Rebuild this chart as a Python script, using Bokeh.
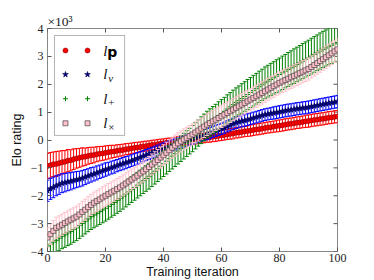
import math
from bokeh.plotting import figure
from bokeh.models import Range1d, FixedTicker, BoxAnnotation, Label, ColumnDataSource
from bokeh.embed import file_html
from bokeh.resources import INLINE

# ---------------- data (Elo rating, in units of 10^3) ----------------
iteration = list(range(0, 101))

l_p = [-0.93,-0.91,-0.87,-0.86,-0.83,-0.80,-0.78,-0.74,-0.73,-0.69,-0.66,
       -0.64,-0.61,-0.60,-0.57,-0.55,-0.54,-0.51,-0.49,-0.48,-0.46,
       -0.44,-0.42,-0.41,-0.39,-0.37,-0.36,-0.33,-0.32,-0.30,-0.28,
       -0.27,-0.25,-0.23,-0.22,-0.20,-0.18,-0.17,-0.15,-0.13,-0.12,
       -0.10,-0.09,-0.07,-0.06,-0.04,-0.03,-0.02,0.00,0.00,0.02,
       0.03,0.04,0.06,0.07,0.09,0.10,0.12,0.13,0.15,0.16,
       0.18,0.20,0.22,0.23,0.26,0.27,0.29,0.31,0.32,0.34,
       0.36,0.38,0.39,0.41,0.43,0.45,0.46,0.48,0.50,0.51,
       0.53,0.55,0.57,0.58,0.60,0.62,0.63,0.65,0.67,0.68,
       0.70,0.72,0.73,0.75,0.76,0.78,0.80,0.81,0.83,0.84]
l_p_err = [0.45,0.46,0.44,0.45,0.43,0.42,0.40,0.40,0.38,0.37,0.35,
           0.34,0.33,0.31,0.30,0.29,0.28,0.27,0.26,0.25,0.25,
           0.24,0.23,0.22,0.22,0.21,0.21,0.20,0.20,0.19,0.19,
           0.19,0.18,0.18,0.18,0.17,0.17,0.17,0.17,0.16,0.16,
           0.16,0.16,0.16,0.16,0.16,0.16,0.16,0.16,0.16,0.17,
           0.17,0.17,0.17,0.17,0.17,0.18,0.18,0.18,0.18,0.18,
           0.18,0.18,0.19,0.19,0.19,0.19,0.19,0.19,0.19,0.20,
           0.20,0.20,0.20,0.20,0.20,0.20,0.20,0.20,0.21,0.21,
           0.21,0.21,0.21,0.21,0.21,0.21,0.21,0.21,0.22,0.22,
           0.22,0.22,0.22,0.22,0.22,0.22,0.22,0.22,0.22,0.22]

l_v = [-1.82,-1.75,-1.70,-1.64,-1.60,-1.55,-1.53,-1.50,-1.48,-1.45,-1.42,
       -1.40,-1.37,-1.33,-1.29,-1.25,-1.22,-1.18,-1.14,-1.10,-1.06,
       -1.03,-0.99,-0.96,-0.92,-0.88,-0.85,-0.81,-0.78,-0.74,-0.70,
       -0.66,-0.62,-0.58,-0.54,-0.50,-0.46,-0.42,-0.38,-0.34,-0.30,
       -0.27,-0.23,-0.19,-0.16,-0.12,-0.09,-0.05,-0.02,0.02,0.05,
       0.08,0.12,0.15,0.18,0.21,0.25,0.29,0.33,0.36,0.40,
       0.44,0.49,0.53,0.58,0.62,0.65,0.68,0.70,0.73,0.76,
       0.79,0.82,0.85,0.88,0.91,0.93,0.95,0.97,0.99,1.01,
       1.03,1.05,1.07,1.08,1.10,1.12,1.13,1.15,1.16,1.18,
       1.20,1.22,1.24,1.26,1.28,1.30,1.32,1.34,1.36,1.38]
l_v_err = [0.38,0.38,0.37,0.36,0.35,0.34,0.33,0.32,0.31,0.30,0.29,
           0.28,0.28,0.27,0.26,0.26,0.25,0.25,0.24,0.24,0.24,
           0.23,0.23,0.23,0.22,0.22,0.22,0.22,0.21,0.21,0.21,
           0.21,0.21,0.20,0.20,0.20,0.20,0.20,0.20,0.20,0.20,
           0.20,0.20,0.20,0.20,0.20,0.20,0.20,0.20,0.20,0.20,
           0.20,0.20,0.20,0.20,0.20,0.20,0.20,0.20,0.20,0.20,
           0.20,0.20,0.20,0.20,0.21,0.21,0.21,0.21,0.21,0.21,
           0.21,0.21,0.21,0.21,0.21,0.21,0.21,0.22,0.22,0.22,
           0.22,0.22,0.22,0.22,0.22,0.22,0.22,0.22,0.22,0.22,
           0.22,0.22,0.22,0.22,0.22,0.22,0.22,0.22,0.22,0.22]

l_plus = [-3.80,-3.74,-3.66,-3.60,-3.52,-3.45,-3.40,-3.33,-3.28,-3.21,-3.15,
          -3.07,-2.99,-2.91,-2.83,-2.75,-2.69,-2.63,-2.57,-2.51,-2.45,
          -2.38,-2.31,-2.24,-2.17,-2.10,-2.02,-1.94,-1.86,-1.78,-1.70,
          -1.62,-1.54,-1.46,-1.38,-1.30,-1.21,-1.12,-1.03,-0.94,-0.85,
          -0.76,-0.67,-0.58,-0.49,-0.40,-0.31,-0.22,-0.13,-0.04,0.05,
          0.15,0.25,0.35,0.45,0.55,0.63,0.71,0.79,0.87,0.95,
          1.03,1.11,1.19,1.27,1.35,1.42,1.49,1.56,1.63,1.70,
          1.77,1.84,1.91,1.98,2.05,2.11,2.17,2.23,2.29,2.35,
          2.41,2.47,2.53,2.59,2.65,2.71,2.77,2.83,2.89,2.95,
          3.01,3.07,3.13,3.19,3.25,3.30,3.35,3.40,3.45,3.50]
l_plus_err = [0.42,0.43,0.44,0.44,0.45,0.45,0.45,0.46,0.46,0.46,0.46,
              0.46,0.46,0.46,0.46,0.46,0.46,0.46,0.46,0.46,0.46,
              0.46,0.46,0.46,0.46,0.46,0.46,0.46,0.46,0.46,0.46,
              0.46,0.46,0.46,0.46,0.46,0.46,0.46,0.46,0.46,0.46,
              0.46,0.46,0.46,0.46,0.46,0.46,0.46,0.46,0.46,0.47,
              0.47,0.47,0.48,0.48,0.48,0.49,0.49,0.49,0.50,0.50,
              0.50,0.51,0.51,0.52,0.52,0.52,0.53,0.53,0.54,0.54,
              0.55,0.55,0.56,0.56,0.57,0.57,0.58,0.58,0.59,0.59,
              0.60,0.60,0.61,0.61,0.62,0.62,0.62,0.63,0.63,0.63,
              0.64,0.64,0.64,0.65,0.65,0.65,0.65,0.66,0.66,0.66]

l_times = [-3.50,-3.38,-3.26,-3.15,-3.10,-3.04,-2.98,-2.92,-2.86,-2.81,-2.75,
           -2.67,-2.58,-2.50,-2.41,-2.33,-2.25,-2.19,-2.13,-2.06,-2.00,
           -1.94,-1.88,-1.82,-1.76,-1.70,-1.63,-1.56,-1.49,-1.42,-1.35,
           -1.28,-1.20,-1.13,-1.05,-0.97,-0.88,-0.80,-0.72,-0.63,-0.55,
           -0.46,-0.37,-0.28,-0.20,-0.12,-0.05,0.02,0.08,0.14,0.20,
           0.27,0.34,0.41,0.48,0.55,0.61,0.67,0.73,0.79,0.85,
           0.91,0.97,1.03,1.09,1.15,1.21,1.27,1.33,1.39,1.45,
           1.51,1.57,1.63,1.69,1.75,1.81,1.87,1.93,1.99,2.05,
           2.10,2.15,2.20,2.25,2.30,2.35,2.40,2.45,2.50,2.55,
           2.62,2.69,2.76,2.83,2.90,2.97,3.04,3.11,3.18,3.25]
l_times_err = [0.36,0.37,0.37,0.38,0.38,0.38,0.38,0.38,0.38,0.38,0.38,
               0.38,0.38,0.38,0.38,0.38,0.38,0.38,0.38,0.38,0.38,
               0.38,0.38,0.38,0.38,0.38,0.38,0.38,0.38,0.38,0.38,
               0.38,0.38,0.38,0.38,0.38,0.38,0.38,0.38,0.38,0.38,
               0.38,0.38,0.38,0.38,0.38,0.38,0.38,0.38,0.38,0.38,
               0.38,0.38,0.38,0.39,0.39,0.39,0.39,0.39,0.40,0.40,
               0.40,0.40,0.40,0.40,0.40,0.40,0.40,0.40,0.40,0.40,
               0.40,0.40,0.40,0.40,0.40,0.40,0.40,0.40,0.40,0.40,
               0.40,0.40,0.40,0.40,0.40,0.40,0.40,0.40,0.40,0.40,
               0.40,0.40,0.40,0.40,0.40,0.40,0.40,0.40,0.40,0.40]

x_ticks = [0, 20, 40, 60, 80, 100]
y_ticks = [-4, -3, -2, -1, 0, 1, 2, 3, 4]

# ---------------- figure ----------------
p = figure(frame_width=290, frame_height=223, output_backend="svg", toolbar_location=None,
           x_range=Range1d(0, 100), y_range=Range1d(-4, 4),
           min_border_left=47, min_border_right=30, min_border_top=28, min_border_bottom=26)
p.xgrid.visible = False
p.ygrid.visible = False
p.outline_line_color = "#888888"
p.outline_line_width = 1
p.background_fill_color = "white"
p.border_fill_color = "white"

TICK_FONT = "Liberation Serif"
LABEL_FONT = "Liberation Sans"

# multiplier shown as a left-aligned title just above the frame
p.title.text = "\u00d710\u00b3"
p.title.align = "left"
p.title.text_font = TICK_FONT
p.title.text_font_size = "13.5px"
p.title.text_font_style = "normal"
p.title.text_color = "#222222"
p.title.standoff = 0
p.title.offset = 0

for ax, ticks in ((p.xaxis[0], x_ticks), (p.yaxis[0], y_ticks)):
    ax.ticker = FixedTicker(ticks=ticks)
    ax.axis_line_color = None
    ax.major_tick_in = 4
    ax.major_tick_out = 0
    ax.minor_tick_line_color = None
    ax.major_tick_line_color = "#555555"
    ax.major_label_text_font = TICK_FONT
    ax.major_label_text_color = "#222222"
    ax.major_label_text_font_size = "12px"
    ax.major_label_overrides = {t: str(t).replace("-", "\u2212") for t in ticks}
    ax.axis_label_text_font = LABEL_FONT
    ax.axis_label_text_font_size = "12.5px"
    ax.axis_label_text_font_style = "normal"
    ax.axis_label_text_color = "#111111"

p.xaxis[0].major_label_standoff = 2
p.yaxis[0].major_label_standoff = 4
p.xaxis[0].axis_label = "Training iteration"
p.yaxis[0].axis_label = "Elo rating"
p.xaxis[0].axis_label_standoff = 0
p.yaxis[0].axis_label_standoff = 4

# inward ticks on the top and right edges of the frame
y_top = p.y_range.end
x_right = p.x_range.end
p.scatter(x=x_ticks, y=[y_top] * len(x_ticks), marker="dash", angle=math.pi / 2,
          size=8, line_color="#555555", line_width=1)
p.scatter(x=[x_right] * len(y_ticks), y=y_ticks, marker="dash",
          size=8, line_color="#555555", line_width=1)

# ---------------- series ----------------
series = [
    (l_p, l_p_err, "#ff0000", dict(marker="circle", size=5, fill_color="#ff0000", line_color="#8b0000", line_width=0.6)),
    (l_v, l_v_err, "#0000ff", dict(marker="star", size=6, fill_color="#000080", line_color="#000050", line_width=0.6)),
    (l_plus, l_plus_err, "#008000", dict(marker="cross", size=5, line_color="#008000", line_width=1)),
    (l_times, l_times_err, "#ffc0cb", dict(marker="square", size=5, fill_color="#ffc0cb", line_color="#444444", line_width=0.7)),
]

for vals, errs, col, mk in series:
    lower = [v - e for v, e in zip(vals, errs)]
    upper = [v + e for v, e in zip(vals, errs)]
    src = ColumnDataSource(dict(x=iteration, y=vals, lo=lower, hi=upper))
    p.segment(x0="x", y0="lo", x1="x", y1="hi", source=src, line_color=col, line_width=1)
    p.scatter(x="x", y="lo", source=src, marker="dash", size=4, line_color=col, line_width=1)
    p.scatter(x="x", y="hi", source=src, marker="dash", size=4, line_color=col, line_width=1)
    p.scatter(x="x", y="y", source=src, **mk)

# ---------------- legend (hand-built, matplotlib style with two points) ----------------
box = BoxAnnotation(left=2.4, right=26.6, top=3.75, bottom=0.165,
                    fill_color="white", fill_alpha=1.0, line_color="black", line_width=1,
                    level="underlay")
p.add_layout(box)

leg_rows = [3.21, 2.35, 1.48, 0.60]
leg_x = [6.2, 13.8]
for (vals, errs, col, mk), ry in zip(series, leg_rows):
    p.scatter(x=leg_x, y=[ry, ry], **mk)

text_x = 19.2
subs = [None, "v", "+", "\u00d7"]
for ry, sub in zip(leg_rows, subs):
    p.add_layout(Label(x=text_x, y=ry, text="l", text_font="Liberation Serif",
                       text_font_style="italic", text_font_size="15px",
                       text_baseline="middle", text_align="left", text_color="#111111"))
    if sub is None:
        p.add_layout(Label(x=text_x, y=ry, x_offset=4, y_offset=-1, text="p",
                           text_font="DejaVu Sans", text_font_style="bold",
                           text_font_size="14px", text_baseline="middle", text_align="left",
                           text_color="black"))
    else:
        p.add_layout(Label(x=text_x, y=ry, x_offset=5, y_offset=-4, text=sub,
                           text_font="Liberation Serif",
                           text_font_style="italic" if sub == "v" else "normal",
                           text_font_size="11px", text_baseline="middle", text_align="left",
                           text_color="#111111"))

open("out.html", "w").write(file_html(p, INLINE))
